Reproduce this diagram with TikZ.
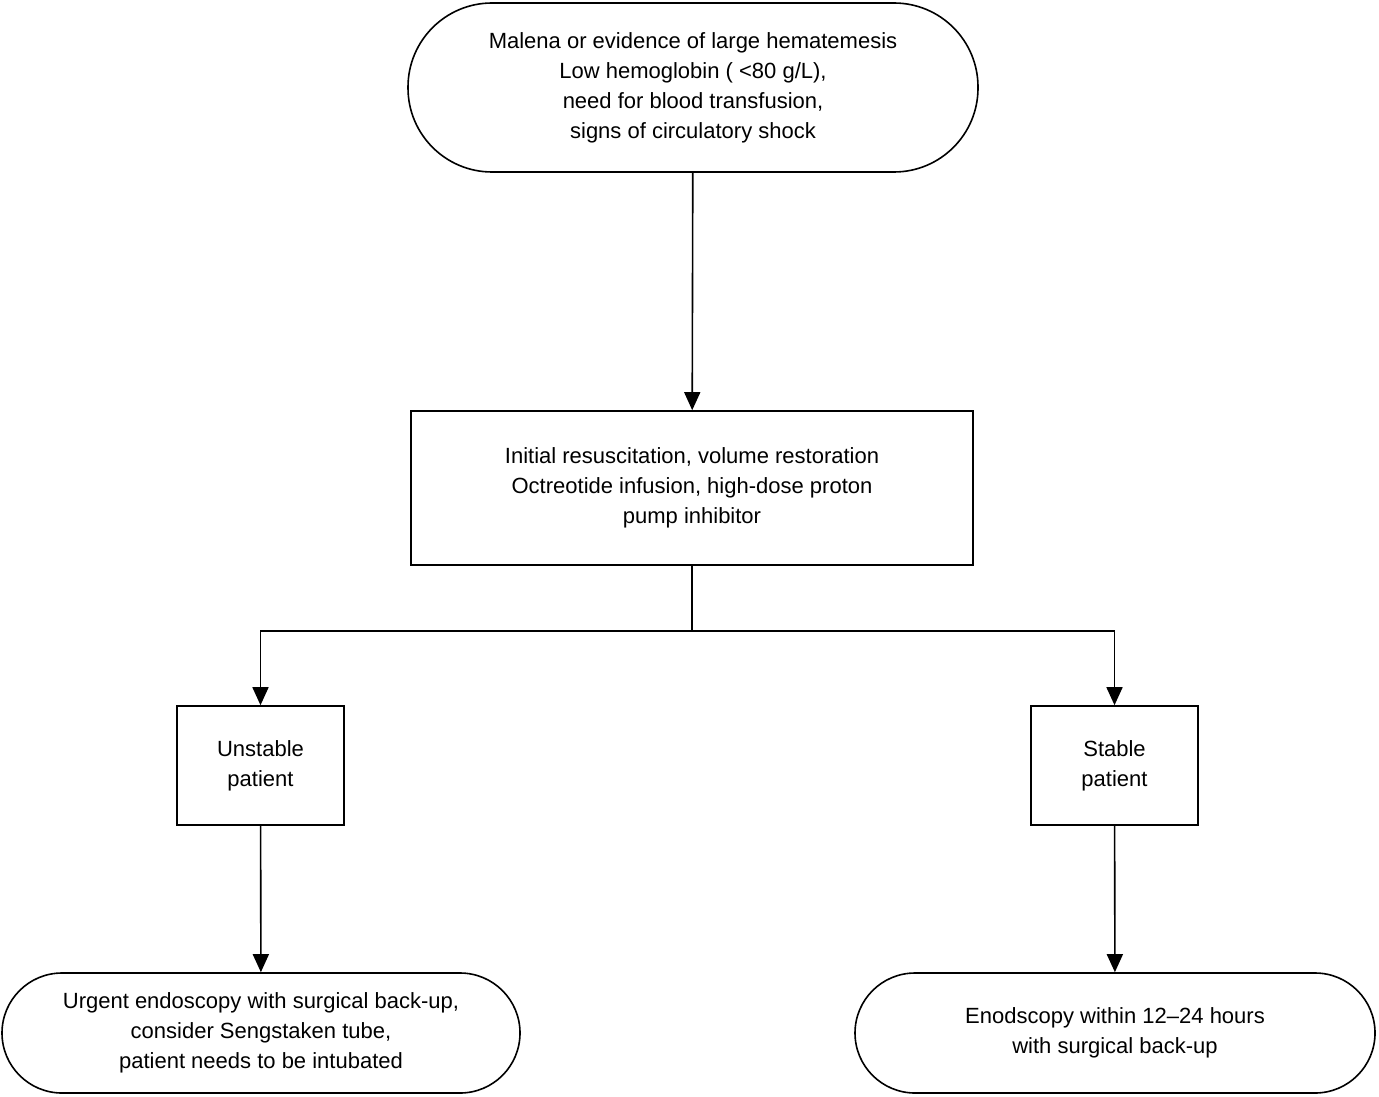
\documentclass[tikz,border=0pt]{standalone}
\usepackage{fontspec}
\setmainfont{Liberation Sans}
\usetikzlibrary{arrows.meta}
\tikzset{
  box/.style={draw, line width=0.8pt, align=center, font=\fontsize{11}{15}\selectfont, inner sep=0pt},
  pill/.style={box, rounded corners=#1},
  link/.style={line width=0.8pt, -{Triangle[length=9pt,width=8pt]}}
}
\begin{document}
\begin{tikzpicture}[x=0.5pt,y=-0.5pt]
\useasboundingbox (0,0) rectangle (1379,1096);
% draws boxes
\node[pill=42pt, minimum width=285pt, minimum height=84.5pt] (start) at (693,87.5)
  {Malena or evidence of large hematemesis\\Low hemoglobin ( <80 g/L),\\need for blood transfusion,\\signs of circulatory shock};
\node[box, minimum width=281pt, minimum height=77pt] (resus) at (692,488)
  {Initial resuscitation, volume restoration\\Octreotide infusion, high-dose proton\\pump inhibitor};
\node[box, minimum width=83.5pt, minimum height=59.5pt] (unstable) at (260.5,765.5)
  {Unstable\\patient};
\node[box, minimum width=83.5pt, minimum height=59.5pt] (stable) at (1114.5,765.5)
  {Stable\\patient};
\node[pill=30pt, minimum width=259pt, minimum height=60pt] (urgent) at (261,1033)
  {Urgent endoscopy with surgical back-up,\\consider Sengstaken tube,\\patient needs to be intubated};
\node[pill=30pt, minimum width=260pt, minimum height=60pt] (later) at (1115,1033)
  {Enodscopy within 12--24 hours\\with surgical back-up};
% draws connectors
\coordinate (split) at (692,631);
\draw[link] (start) -- (resus);
\draw[line width=0.8pt] (resus) -- (split);
\draw[link] (split) -| (unstable);
\draw[link] (split) -| (stable);
\draw[link] (unstable) -- (urgent);
\draw[link] (stable) -- (later);
\end{tikzpicture}
\end{document}
